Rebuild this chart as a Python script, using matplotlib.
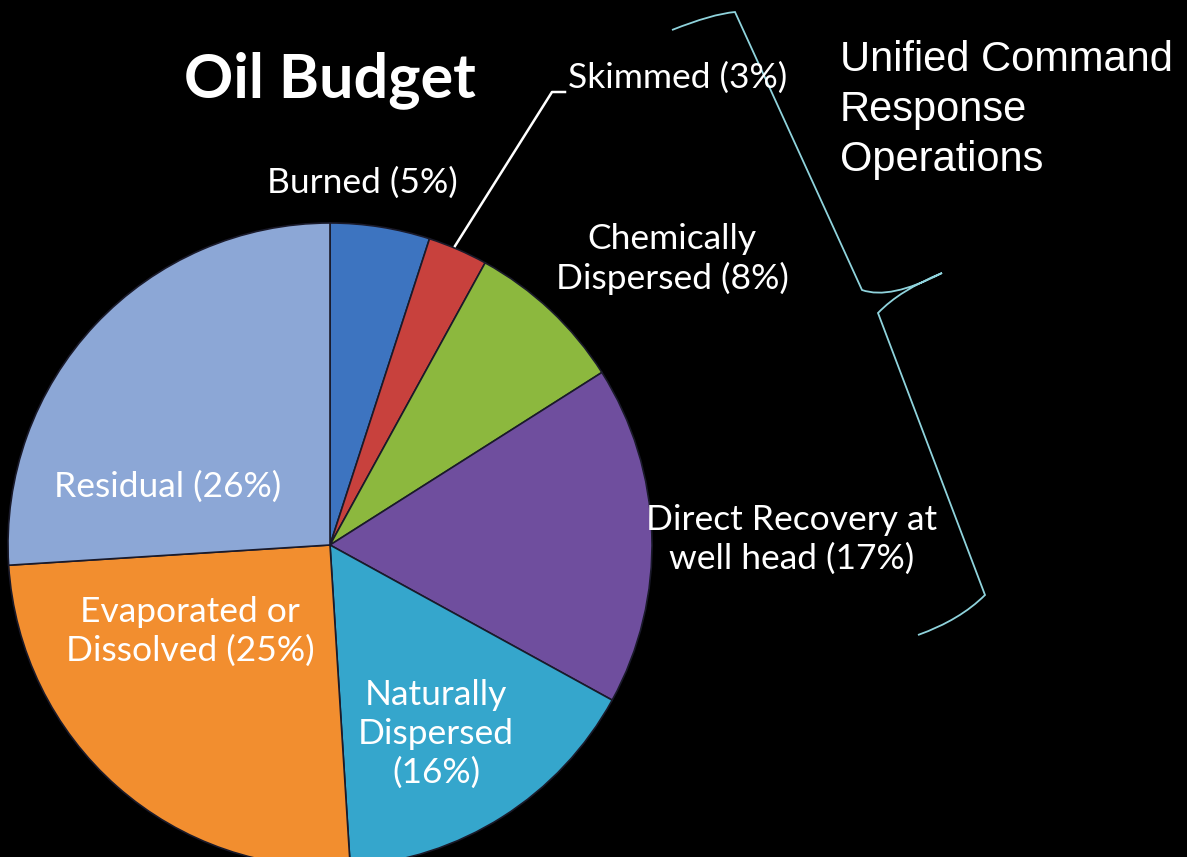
"""
Oil budget pie chart with Unified Command brace
"""

import matplotlib.pyplot as plt
from matplotlib.path import Path
from matplotlib.patches import PathPatch

W, H = 1187, 857

categories = ["Burned", "Skimmed", "Chemically Dispersed", "Direct Recovery at well head",
              "Naturally Dispersed", "Evaporated or Dissolved", "Residual"]
shares = [5, 3, 8, 17, 16, 25, 26]
colors = ["#3d74c0", "#c8413d", "#8cb83e", "#6f4e9e", "#35a6cc", "#f28e2f", "#8ca7d6"]

# label text and position (pixels from top-left) for each slice
label_texts = ["Burned (5%)", "Skimmed (3%)", "Chemically\nDispersed (8%)",
               "Direct Recovery at\nwell head (17%)", "Naturally\nDispersed\n(16%)",
               "Evaporated or\nDissolved (25%)", "Residual (26%)"]
label_pos = [(362, 183), (678, 78), (672, 259), (792, 539), (436, 734), (190, 631), (168, 487)]

fig = plt.figure(figsize=(W / 100, H / 100), dpi=100, facecolor="black")
ax = fig.add_axes([0, 0, 1, 1])
ax.set_facecolor("black")

ax.pie(shares, colors=colors, startangle=90, counterclock=False,
       center=(330, H - 545), radius=322,
       wedgeprops=dict(edgecolor="#1a1a2a", linewidth=1.2))
ax.set_xlim(0, W)
ax.set_ylim(0, H)
ax.set_aspect("equal")
ax.axis("off")

font = "Lato"
for txt, (x, y) in zip(label_texts, label_pos):
    ax.text(x, H - y, txt, color="white", fontsize=25.5, family=font,
            ha="center", va="center", linespacing=1.25)

ax.text(330, H - 80, "Oil Budget", color="white", fontsize=44, family=font,
        fontweight="bold", ha="center", va="center")

# leader line for Skimmed
ax.plot([455, 552, 565], [H - 246, H - 92, H - 92], color="white", linewidth=1.8)

ax.text(840, H - 110, "Unified Command\nResponse\nOperations", color="white",
        fontsize=30, family="Liberation Sans", ha="left", va="center", linespacing=1.32)

# curly brace
brace = [(672, 30), (712, 14), (735, 12),
         (862, 290),
         (890, 300), (942, 273),
         (900, 290), (878, 313),
         (985, 595),
         (960, 620), (918, 635)]
codes = [Path.MOVETO, Path.CURVE3, Path.CURVE3,
         Path.LINETO,
         Path.CURVE3, Path.CURVE3,
         Path.CURVE3, Path.CURVE3,
         Path.LINETO,
         Path.CURVE3, Path.CURVE3]
verts = [(x, H - y) for x, y in brace]
ax.add_patch(PathPatch(Path(verts, codes), fill=False, edgecolor="#8fd3dc", linewidth=1.3))

plt.savefig("out.png", dpi=100, facecolor="black")
